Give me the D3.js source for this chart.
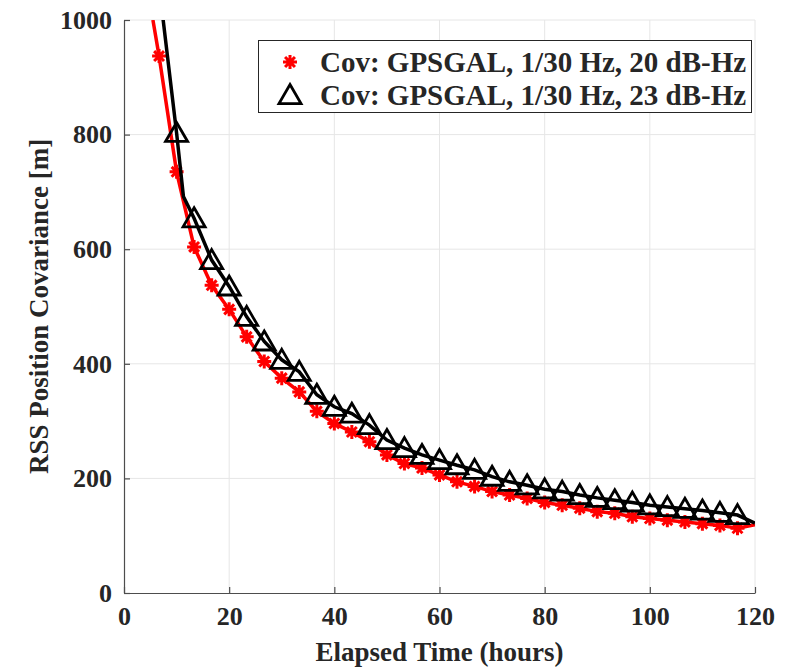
<!DOCTYPE html>
<html>
<head>
<meta charset="utf-8">
<script src="https://cdn.jsdelivr.net/npm/d3@7"></script>
<style>
  body { margin: 0; background: #fff; }
  text { font-family: "Liberation Serif", "Times New Roman", serif; font-weight: bold; fill: #262626; }
</style>
</head>
<body>
<svg id="chart" width="792" height="668"></svg>
<script>
// marker times (hours), one sample every 200 min
const markerT = [6.67, 10, 13.33, 16.67, 20, 23.33, 26.67, 30, 33.33, 36.67, 40, 43.33,
  46.67, 50, 53.33, 56.67, 60, 63.33, 66.67, 70, 73.33, 76.67, 80, 83.33, 86.67, 90,
  93.33, 96.67, 100, 103.33, 106.67, 110, 113.33, 116.67];
// 20 dB-Hz covariance at marker times
const cov20 = [937, 735, 604, 537, 495, 447, 404, 375, 351, 317, 296, 281,
  264, 241, 226, 218, 206, 194, 186, 177, 171, 165, 158, 153, 148, 142,
  139, 133, 130, 127, 124, 121, 118, 113];
// 23 dB-Hz covariance (first marker is above the axis)
const cov23 = [1060, 803, 654, 581, 535, 482, 439, 407, 386, 346, 325, 313,
  293, 267, 253, 241, 232, 223, 215, 203, 194, 188, 181, 177, 171, 166,
  162, 158, 153, 150, 147, 144, 140, 136];
// extra line samples between markers (start, knee, end)
const line20Extra = [[5.5, 1000], [120, 119]];
const line23Extra = [[6.3, 1000], [11.3, 692], [120, 122]];

const xTicks = [0, 20, 40, 60, 80, 100, 120];
const yTicks = [0, 200, 400, 600, 800, 1000];
const legendLabels = ['Cov: GPSGAL, 1/30 Hz, 20 dB-Hz', 'Cov: GPSGAL, 1/30 Hz, 23 dB-Hz'];

const svg = d3.select('#chart');
const margin = {top: 20, right: 37, bottom: 75, left: 124};
const width = +svg.attr('width');
const height = +svg.attr('height');

const xScale = d3.scaleLinear().domain([0, 120]).range([margin.left, width - margin.right]);
const yScale = d3.scaleLinear().domain([0, 1000]).range([height - margin.bottom, margin.top]);

// grid
svg.append('g').selectAll('line').data(xTicks.slice(1)).enter().append('line')
  .attr('x1', d => xScale(d)).attr('x2', d => xScale(d))
  .attr('y1', yScale(0)).attr('y2', yScale(1000))
  .attr('stroke', '#e6e6e6').attr('stroke-width', 1);
svg.append('g').selectAll('line').data(yTicks.slice(1)).enter().append('line')
  .attr('x1', xScale(0)).attr('x2', xScale(120))
  .attr('y1', d => yScale(d)).attr('y2', d => yScale(d))
  .attr('stroke', '#e6e6e6').attr('stroke-width', 1);

// axes
const xAxis = d3.axisBottom(xScale).tickValues(xTicks).tickFormat(d3.format('d'))
  .tickSizeInner(-6).tickSizeOuter(0).tickPadding(14);
const yAxis = d3.axisLeft(yScale).tickValues(yTicks).tickFormat(d3.format('d'))
  .tickSizeInner(-6).tickSizeOuter(0).tickPadding(12);
const xAxisGroup = svg.append('g').attr('transform', `translate(0, ${yScale(0)})`).call(xAxis);
const yAxisGroup = svg.append('g').attr('transform', `translate(${xScale(0)}, 0)`).call(yAxis);
[xAxisGroup, yAxisGroup].forEach(g => {
  g.select('.domain').attr('stroke', '#4d4d4d').attr('stroke-width', 1.2);
  g.selectAll('.tick line').attr('stroke', '#4d4d4d').attr('stroke-width', 1.2);
  g.selectAll('.tick text').attr('font-size', '26px').attr('fill', '#262626')
    .attr('font-family', '"Liberation Serif", serif').attr('font-weight', 'bold');
});
xAxisGroup.selectAll('.tick text').attr('dy', '0.71em');

svg.append('text')
  .attr('x', xScale(60)).attr('y', 661)
  .attr('text-anchor', 'middle').attr('font-size', '27px')
  .text('Elapsed Time (hours)');
svg.append('text')
  .attr('transform', `translate(48, ${(yScale(0) + yScale(1000)) / 2}) rotate(-90)`)
  .attr('text-anchor', 'middle').attr('font-size', '27px')
  .text('RSS Position Covariance [m]');

// clip to plot area
svg.append('clipPath').attr('id', 'plotclip').append('rect')
  .attr('x', xScale(0)).attr('y', yScale(1000))
  .attr('width', xScale(120) - xScale(0)).attr('height', yScale(0) - yScale(1000));
const plot = svg.append('g').attr('clip-path', 'url(#plotclip)');

const line = d3.line().x(d => xScale(d[0])).y(d => yScale(d[1]));
const pts20 = markerT.map((t, i) => [t, cov20[i]]);
const pts23 = markerT.map((t, i) => [t, cov23[i]]);
const linePts20 = pts20.concat(line20Extra).sort((a, b) => a[0] - b[0]);
const linePts23 = pts23.concat(line23Extra).sort((a, b) => a[0] - b[0]);

const starPath = r => {
  let p = '';
  for (let k = 0; k < 4; k++) {
    const a = k * Math.PI / 4;
    const dx = r * Math.cos(a), dy = r * Math.sin(a);
    p += `M${-dx},${-dy}L${dx},${dy}`;
  }
  return p;
};
const triPath = s => `M0,${-s * 0.55}L${s * 0.58},${s * 0.45}L${-s * 0.58},${s * 0.45}Z`;

plot.append('path').datum(linePts20).attr('d', line)
  .attr('fill', 'none').attr('stroke', '#ff0000').attr('stroke-width', 3.5);
plot.append('g').selectAll('path').data(pts20).enter().append('path')
  .attr('transform', d => `translate(${xScale(d[0])}, ${yScale(d[1])})`)
  .attr('d', starPath(7)).attr('stroke', '#ff0000').attr('stroke-width', 3).attr('fill', 'none');

plot.append('path').datum(linePts23).attr('d', line)
  .attr('fill', 'none').attr('stroke', '#000').attr('stroke-width', 3.5);
plot.append('g').selectAll('path').data(pts23).enter().append('path')
  .attr('transform', d => `translate(${xScale(d[0])}, ${yScale(d[1])})`)
  .attr('d', triPath(19)).attr('stroke', '#000').attr('stroke-width', 2.8)
  .attr('fill', 'none').attr('stroke-linejoin', 'miter');

// legend
const legend = svg.append('g');
legend.append('rect')
  .attr('x', 258.5).attr('y', 40.5).attr('width', 493).attr('height', 72)
  .attr('fill', '#fff').attr('stroke', '#262626').attr('stroke-width', 1);
const legendRows = legend.selectAll('.row').data(legendLabels).enter().append('g')
  .attr('class', 'row')
  .attr('transform', (d, i) => `translate(0, ${62 + i * 33})`);
legendRows.append('text')
  .attr('x', 320).attr('y', 0).attr('dy', '0.35em')
  .attr('font-size', '29px').attr('fill', '#000')
  .text(d => d);
legendRows.filter((d, i) => i === 0).append('path')
  .attr('transform', 'translate(290, 0)')
  .attr('d', starPath(7)).attr('stroke', '#ff0000').attr('stroke-width', 3).attr('fill', 'none');
legendRows.filter((d, i) => i === 1).append('path')
  .attr('transform', 'translate(290, 0)')
  .attr('d', triPath(19)).attr('stroke', '#000').attr('stroke-width', 2.8).attr('fill', 'none');
</script>
</body>
</html>
